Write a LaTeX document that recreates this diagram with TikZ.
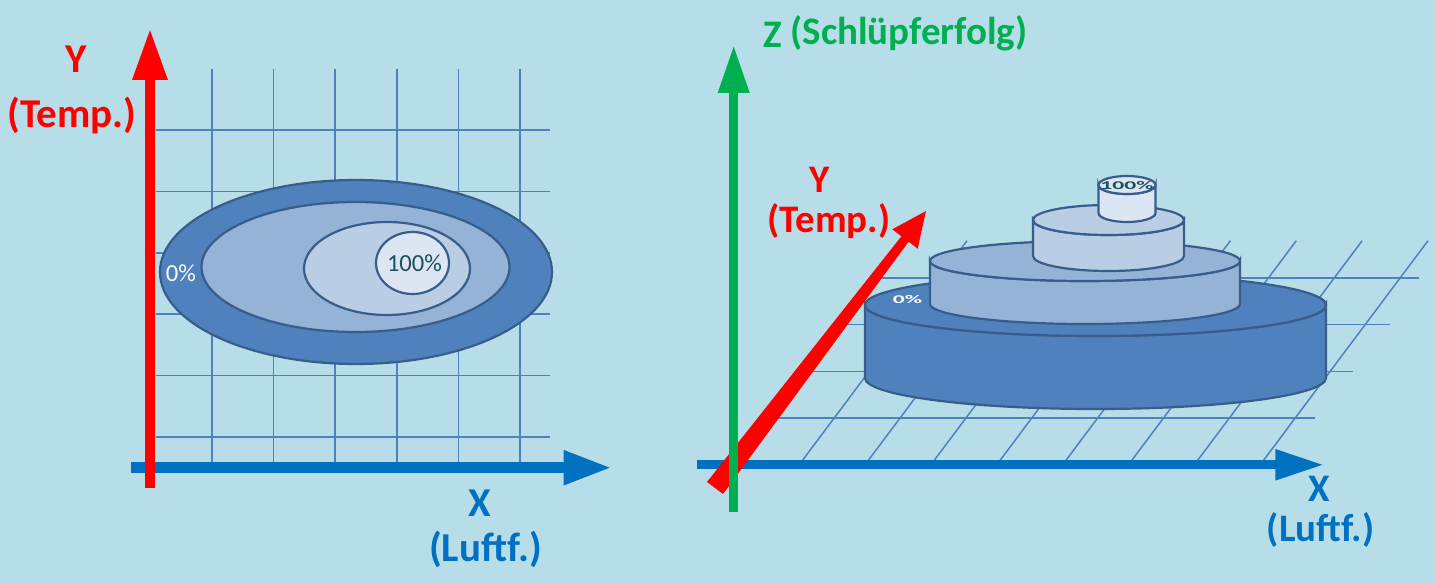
\documentclass[tikz,border=0pt]{standalone}
\usepackage{fontspec}
\setmainfont{Carlito}
\usetikzlibrary{arrows.meta}
\definecolor{bgc}{HTML}{B7DEE8}
\definecolor{axred}{HTML}{FF0000}
\definecolor{axblue}{HTML}{0070C0}
\definecolor{axgreen}{HTML}{00B050}
\definecolor{gridc}{HTML}{4F81BD}
\definecolor{edgec}{HTML}{385D8A}
\definecolor{ringA}{HTML}{4F81BD}
\definecolor{ringB}{HTML}{95B3D7}
\definecolor{ringC}{HTML}{B9CDE5}
\definecolor{ringD}{HTML}{DCE6F2}
\definecolor{tealc}{HTML}{1D4F5C}
\begin{document}
\begin{tikzpicture}[x=0.5pt,y=-0.5pt,
	gridln/.style={gridc, line width=0.75pt},
	disc/.style={draw=edgec, line width=1.1pt},
	lbl/.style={inner sep=0pt, font=\bfseries\fontsize{20.5}{24}\selectfont},
	lbs/.style={inner sep=0pt, font=\bfseries\fontsize{19.5}{23}\selectfont},
	pct/.style={inner sep=0pt, font=\fontsize{12.3}{14}\selectfont},
	flat/.style={inner sep=0pt, yscale=0.5, transform shape, font=\bfseries\fontsize{11.8}{14}\selectfont}]
	\fill[bgc] (0,0) rectangle (1435,583);
	\useasboundingbox (0,0) rectangle (1435,583);
	\foreach \k in {0,...,5} {
		\draw[gridln] ({212+61.6*\k},69) -- ({212+61.6*\k},463);
		\draw[gridln] (156,{130+61.4*\k}) -- (550,{130+61.4*\k});
	}
	\draw[disc, fill=ringA] (356,272) ellipse[x radius=196, y radius=92];
	\draw[disc, fill=ringB] (355.5,267) ellipse[x radius=154, y radius=65];
	\draw[disc, fill=ringC] (387,268.5) ellipse[x radius=83, y radius=46.5];
	\draw[disc, fill=ringD] (412.5,263) ellipse[x radius=36.5, y radius=31];
	\path(414.5,263) node[pct, tealc](P100) {100\%};
	\path(181,273)   node[pct, white!95!gray](P0) {0\%};
	\path(130.5,467.7) coordinate(XA0);
	\path(612,467.7)   coordinate(XA1);
	\path(150,488)     coordinate(YA0);
	\path(150,28)      coordinate(YA1);
	\draw[axblue, line width=5.5pt, -{Triangle[length=24.25pt,width=16pt]}] (XA0) -- (XA1);
	\draw[axred, line width=5.35pt, -{Triangle[length=26pt,width=16.25pt]}] (YA0) -- (YA1);
	\path(76.3,59.5) node[lbl, axred](YL) {Y};
	\path(72,116)    node[lbl, axred](TL) {(Temp.)};
	\path(479.6,503) node[lbl, axblue](XL) {X};
	\path(485.5,549) node[lbl, axblue](LL) {(Luftf.)};
	\foreach \y/\a/\b in {278/875/1419, 324.7/847/1390, 371.7/809/1353, 418/771/1315}
		\draw[gridln] (\a,\y) -- (\b,\y);
	\foreach \k in {0,...,7}
		\draw[gridln] ({799+65.86*\k},465) -- ({967+65.86*\k},240.7);
	\foreach \cx/\rx/\yt/\yb/\ry/\c in {1095.5/230.5/305/378/31/ringA, 1085/155/261/304/20/ringB,
			1108.5/75.5/220/256/15/ringC, 1127/28.5/185/213/9/ringD} {
		\draw[disc, fill=\c] ({\cx-\rx},\yt) -- ({\cx-\rx},\yb)
			arc[start angle=180, end angle=0, x radius=\rx, y radius=\ry]
			-- ({\cx+\rx},\yt) arc[start angle=0, end angle=180, x radius=\rx, y radius=\ry] -- cycle;
		\draw[disc, fill=\c] (\cx,\yt) ellipse[x radius=\rx, y radius=\ry];
	}
	\path(1127,185.5) node[flat, tealc](Q100) {100\%};
	\path(907.5,299)  node[flat, white](Q0) {0\%};
	\path(696.7,464.8) coordinate(XB0);
	\path(1324.3,464.8) coordinate(XB1);
	\path(733.7,512)   coordinate(ZB0);
	\path(733.7,44.6)  coordinate(ZB1);
	\draw[axblue, line width=4.65pt, -{Triangle[length=24.5pt,width=14.3pt]}] (XB0) -- (XB1);
	\fill[axred] (707,482) -- (901.4,236.3) -- (892.3,229.3) -- (926,211)
		-- (917.7,248.7) -- (908.6,241.7) -- (723,494) -- cycle;
	\draw[axgreen, line width=4.75pt, -{Triangle[length=24.2pt,width=14.5pt]}] (ZB0) -- (ZB1);
	\path(820,180)    node[lbs, axred](YR) {Y};
	\path(829,221)    node[lbs, axred](TR) {(Temp.)};
	\path(773,35.3)   node[lbs, axgreen](ZR) {Z};
	\path(909,33.5)   node[lbs, axgreen](SR) {(Schlüpferfolg)};
	\path(1319.5,489) node[lbs, axblue](XR) {X};
	\path(1320.5,530) node[lbs, axblue](LR) {(Luftf.)};
\end{tikzpicture}
\end{document}
